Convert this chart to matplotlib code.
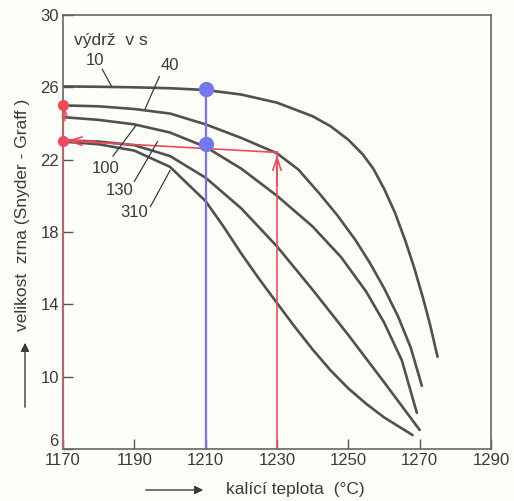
import matplotlib
matplotlib.use('Agg')
import matplotlib.pyplot as plt

plt.rcParams['font.family'] = ['Liberation Sans', 'DejaVu Sans']

# curves: quenching temperature (C) -> grain size (Snyder-Graff), per holding time
temp_10 = [1170, 1180, 1190, 1200, 1210, 1220, 1230, 1240, 1245, 1250, 1254, 1257, 1260, 1263,
           1266, 1268.5, 1271, 1273, 1275]
size_10 = [26.05, 26.03, 26.0, 25.95, 25.85, 25.6, 25.15, 24.4, 23.85, 23.1, 22.3, 21.5, 20.4,
           19.1, 17.5, 16.0, 14.3, 12.8, 11.1]

temp_40 = [1170, 1180, 1190, 1200, 1210, 1220, 1230, 1236, 1242, 1247, 1252, 1256, 1260, 1264,
           1267.5, 1270.6]
size_40 = [25.0, 24.95, 24.8, 24.55, 23.95, 23.2, 22.35, 21.45, 20.1, 18.9, 17.55, 16.3, 14.9,
           13.3, 11.6, 9.5]

temp_100 = [1170, 1180, 1190, 1200, 1210, 1220, 1230, 1240, 1248, 1255, 1260, 1265, 1269.2]
size_100 = [24.35, 24.2, 23.95, 23.5, 22.7, 21.5, 20.0, 18.3, 16.6, 14.7, 13.0, 10.9, 8.0]

temp_130 = [1170, 1180, 1190, 1200, 1210, 1220, 1230, 1240, 1250, 1260, 1270]
size_130 = [23.07, 23.0, 22.8, 22.2, 21.0, 19.3, 17.2, 14.8, 12.3, 9.7, 7.05]

temp_310 = [1170, 1180, 1190, 1200, 1210, 1215, 1220, 1225, 1230, 1235, 1240, 1245, 1250, 1255,
            1260, 1268]
size_310 = [23.0, 22.85, 22.5, 21.6, 19.7, 18.3, 16.8, 15.4, 14.07, 12.75, 11.5, 10.35, 9.35,
            8.5, 7.75, 6.77]

curve_labels = ['10', '40', '100', '130', '310']
x_ticks = [1170, 1190, 1210, 1230, 1250, 1270, 1290]
y_ticks = [6, 10, 14, 18, 22, 26, 30]

# reading lines
red_dots_y = [25.0, 23.05]
blue_x = 1210
blue_dots_y = [25.9, 22.85]
red_x = 1230
red_hit_y = 22.4

fig = plt.figure(figsize=(5.14, 5.01), dpi=100)
fig.patch.set_facecolor('#fefef9')
ax = fig.add_axes([0.1226, 0.1038, 0.8327, 0.8663])
ax.set_facecolor('#fefef9')

line_col = '#505050'
for t, s in [(temp_10, size_10), (temp_40, size_40), (temp_100, size_100),
             (temp_130, size_130), (temp_310, size_310)]:
    ax.plot(t, s, color=line_col, lw=1.9, solid_capstyle='round', solid_joinstyle='round')

red = '#f2495a'
blue = '#7575ee'

# red construction
ax.plot([red_x, red_x], [6, red_hit_y], color=red, lw=1.2)
ax.plot([red_x, 1170], [red_hit_y, red_dots_y[1]], color=red, lw=1.2)
ax.plot([1170, 1170], [6, red_dots_y[0]], color=red, lw=1.6, zorder=5)
ax.annotate('', xy=(red_x, red_hit_y), xytext=(red_x, red_hit_y - 2),
            arrowprops=dict(arrowstyle='->,head_length=0.9,head_width=0.3', color=red, lw=1.2))
ax.annotate('', xy=(1170.3, red_dots_y[1]), xytext=(1180, red_dots_y[1] - 0.05),
            arrowprops=dict(arrowstyle='->,head_length=0.9,head_width=0.3', color=red, lw=1.2))
ax.annotate('', xy=(1170.5, red_dots_y[0]), xytext=(1170.5, red_dots_y[0] - 1),
            arrowprops=dict(arrowstyle='->,head_length=0.5,head_width=0.2', color=red, lw=1.0))
ax.plot([1170, 1170], red_dots_y, 'o', color=red, ms=7, zorder=6, clip_on=False)

# blue construction
ax.plot([blue_x, blue_x], [6, blue_dots_y[0]], color=blue, lw=1.6)
ax.plot([blue_x, blue_x], blue_dots_y, 'o', color=blue, ms=10, zorder=6)

# curve labels with leaders: (text x, text y, leader start, leader end)
label_pos = [(1179, 27.5, (1181, 27.0), (1183.5, 26.1)),
             (1200, 27.2, (1197, 26.6), (1193, 24.8)),
             (1182, 21.5, (1184, 22.2), (1190.5, 23.9)),
             (1186, 20.3, (1190, 20.8), (1196.5, 23.0)),
             (1190, 19.1, (1194.5, 19.4), (1200, 21.4))]
for lab, (tx, ty, p0, p1) in zip(curve_labels, label_pos):
    ax.text(tx, ty, lab, fontsize=12, ha='center', va='center', color='#3a3a3a')
    ax.plot([p0[0], p1[0]], [p0[1], p1[1]], color='#3a3a3a', lw=0.9)

ax.text(1173, 28.6, 'výdrž  v s', fontsize=12.5, ha='left', va='center', color='#3a3a3a')

ax.set_xlim(1170, 1290)
ax.set_ylim(6, 30)
ax.set_xticks(x_ticks)
ax.set_yticks(y_ticks)
ax.tick_params(direction='in', length=7, width=1.0, colors='#555555', labelsize=12,
               labelcolor='#3a3a3a', pad=3)
# the bottom "6" sits above the x labels, as in the original
ax.yaxis.get_major_ticks()[0].label1.set_verticalalignment('bottom')
for sp in ax.spines.values():
    sp.set_color('#666666')
    sp.set_linewidth(1.2)

# axis titles with arrows
fig.text(0.043, 0.571, 'velikost  zrna (Snyder - Graff )', rotation=90,
         ha='center', va='center', fontsize=12.5, color='#3a3a3a')
fig.text(0.574, 0.022, 'kalící teplota  (°C)', ha='center', va='center',
         fontsize=12.5, color='#3a3a3a')
fig.patches.append(matplotlib.patches.FancyArrowPatch(
    (25 / 514, 1 - 410 / 501), (25 / 514, 1 - 340 / 501), transform=fig.transFigure,
    arrowstyle='-|>,head_length=5,head_width=2.5', color='#3a3a3a', lw=1.0))
fig.patches.append(matplotlib.patches.FancyArrowPatch(
    (143 / 514, 1 - 490 / 501), (206 / 514, 1 - 490 / 501), transform=fig.transFigure,
    arrowstyle='-|>,head_length=5,head_width=2.5', color='#3a3a3a', lw=1.0))

fig.savefig('out.png', dpi=100, facecolor=fig.get_facecolor())
